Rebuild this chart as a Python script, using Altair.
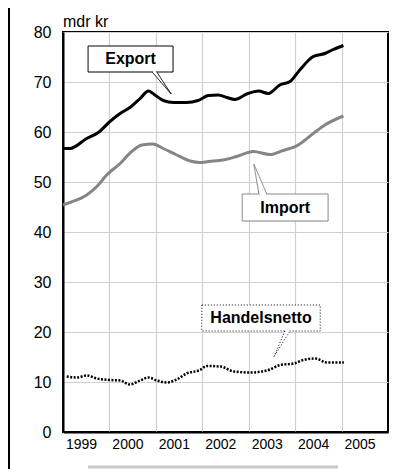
import altair as alt
import pandas as pd

# ---- data (fractional year, mdr kr) ----
export_t = [1999.01, 1999.15, 1999.51, 1999.76, 2000.01, 2000.23, 2000.44, 2000.66,
            2000.84, 2000.98, 2001.16, 2001.38, 2001.66, 2001.91, 2002.13, 2002.34,
            2002.53, 2002.70, 2002.96, 2003.21, 2003.42, 2003.67, 2003.89, 2004.10,
            2004.39, 2004.64, 2004.82, 2005.04]
export_v = [56.7, 56.7, 58.7, 59.9, 62.1, 63.7, 64.9, 66.7,
            68.2, 67.4, 66.3, 65.9, 65.9, 66.3, 67.3, 67.4,
            66.9, 66.5, 67.6, 68.2, 67.7, 69.4, 70.1, 72.4,
            75.1, 75.7, 76.5, 77.3]

import_t = [1999.00, 1999.15, 1999.51, 1999.73, 1999.94, 2000.23, 2000.48, 2000.70,
            2000.94, 2001.16, 2001.45, 2001.74, 2001.95, 2002.13, 2002.45, 2002.74,
            2003.10, 2003.46, 2003.74, 2004.03, 2004.39, 2004.64, 2005.04]
import_v = [45.4, 45.9, 47.4, 49.1, 51.4, 53.7, 56.1, 57.4,
            57.6, 56.7, 55.4, 54.2, 53.9, 54.1, 54.4, 55.1,
            56.1, 55.5, 56.3, 57.2, 59.7, 61.4, 63.2]

netto_t = [1999.08, 1999.30, 1999.51, 1999.73, 2000.01, 2000.23, 2000.44, 2000.66,
           2000.84, 2001.02, 2001.23, 2001.45, 2001.66, 2001.95, 2002.10, 2002.39,
           2002.68, 2003.03, 2003.39, 2003.68, 2003.97, 2004.18, 2004.43, 2004.69,
           2005.05]
netto_v = [11.1, 10.9, 11.3, 10.7, 10.4, 10.3, 9.5, 10.3,
           10.9, 10.3, 9.9, 10.5, 11.7, 12.4, 13.2, 13.1,
           12.1, 11.9, 12.3, 13.4, 13.7, 14.4, 14.7, 13.9,
           13.9]

years = [1999, 2000, 2001, 2002, 2003, 2004, 2005]
y_ticks = [0, 10, 20, 30, 40, 50, 60, 70, 80]

# callout labels (data coordinates): box x1, x2, y1, y2; pointer base1, tip, base2
labels = ["Export", "Import", "Handelsnetto"]
box_x1 = [1999.54, 2002.86, 2001.99]
box_x2 = [2001.37, 2004.71, 2004.54]
box_y1 = [77.2, 47.6, 25.4]
box_y2 = [72.0, 42.2, 20.2]
ptr_x = [[2000.92, 2001.33, 2001.02], [2003.22, 2003.11, 2003.39], [2003.78, 2003.54, 2003.89]]
ptr_y = [[72.0, 67.6, 72.0], [47.6, 53.6, 47.6], [20.2, 15.0, 20.2]]

FONT = "Liberation Sans"
GRID = "#d0d0d0"

x_scale = alt.Scale(domain=[1999, 2006], nice=False, zero=False)
y_scale = alt.Scale(domain=[0, 80], nice=False)


def sdf(t, v):
    return pd.DataFrame({"t": t, "v": v})


x_axis = alt.Axis(values=years, format="d", labelOffset=18, ticks=False, grid=True,
                  gridColor=GRID, gridWidth=1.2, labelFontSize=14, labelFont=FONT,
                  labelColor="black", labelPadding=5, labelFlush=False,
                  labelOverlap=False, labelBound=False, domainColor="black",
                  domainWidth=2, title=None)
y_axis = alt.Axis(values=y_ticks, ticks=False, grid=True, gridColor=GRID, gridWidth=1.2,
                  labelFontSize=16, labelFont=FONT, labelColor="black", labelPadding=12,
                  domainColor="black", domainWidth=2, title=None)


def X(field):
    return alt.X(field, scale=x_scale, axis=x_axis)


def Y(field):
    return alt.Y(field, scale=y_scale, axis=y_axis)


export_line = alt.Chart(sdf(export_t, export_v)).mark_line(
    color="black", strokeWidth=3, interpolate="monotone").encode(x=X("t:Q"), y=Y("v:Q"))
import_line = alt.Chart(sdf(import_t, import_v)).mark_line(
    color="#858585", strokeWidth=3, interpolate="monotone").encode(x=X("t:Q"), y=Y("v:Q"))
netto_line = alt.Chart(sdf(netto_t, netto_v)).mark_line(
    color="black", strokeWidth=2.5, strokeDash=[2, 1.5], interpolate="monotone").encode(
    x=X("t:Q"), y=Y("v:Q"))

layers = [export_line, import_line, netto_line]

styles = [
    dict(stroke="black", strokeDash=[1, 0]),
    dict(stroke="#808080", strokeDash=[1, 0]),
    dict(stroke="black", strokeDash=[1, 2]),
]

for i, lab in enumerate(labels):
    st = styles[i]
    bdf = pd.DataFrame({"x1": [box_x1[i]], "x2": [box_x2[i]], "y1": [box_y1[i]],
                        "y2": [box_y2[i]], "cx": [(box_x1[i] + box_x2[i]) / 2],
                        "cy": [(box_y1[i] + box_y2[i]) / 2], "label": [lab]})
    box = alt.Chart(bdf).mark_rect(fill="white", stroke=st["stroke"], strokeWidth=1,
                                   strokeDash=st["strokeDash"]).encode(
        x=X("x1:Q"), x2="x2:Q", y=Y("y1:Q"), y2="y2:Q")
    pdf = pd.DataFrame({"px": ptr_x[i], "py": ptr_y[i], "o": [0, 1, 2]})
    ptr = alt.Chart(pdf).mark_line(fill="white", stroke=st["stroke"], strokeWidth=1,
                                   strokeDash=st["strokeDash"]).encode(
        x=X("px:Q"), y=Y("py:Q"), order="o:Q")
    gdf = pd.DataFrame({"gx1": [ptr_x[i][0] + 0.02], "gx2": [ptr_x[i][2] - 0.02],
                        "gy": [ptr_y[i][0]]})
    gap = alt.Chart(gdf).mark_rule(color="white", strokeWidth=2).encode(
        x=X("gx1:Q"), x2="gx2:Q", y=Y("gy:Q"))
    txt = alt.Chart(bdf).mark_text(font=FONT, fontSize=16, fontWeight="bold",
                                   color="black", align="center",
                                   baseline="middle").encode(
        x=X("cx:Q"), y=Y("cy:Q"), text="label:N")
    layers += [box, ptr, gap, txt]

one = pd.DataFrame({"unit": ["mdr kr"]})
unit_txt = alt.Chart(one).mark_text(font=FONT, fontSize=16, align="left",
                                    baseline="alphabetic", color="black").encode(
    x=alt.value(0), y=alt.value(-5), text="unit:N")
frame_left = alt.Chart(one).mark_rule(color="black", strokeWidth=2).encode(
    x=alt.value(-54), y=alt.value(-24), y2=alt.value(440))
bottom_bar = alt.Chart(one).mark_rule(color="#c8c8c8", strokeWidth=3).encode(
    x=alt.value(25), x2=alt.value(275), y=alt.value(435))

layers += [unit_txt, frame_left, bottom_bar]

chart = alt.layer(*layers).properties(
    width=325, height=400,
    autosize=alt.AutoSizeParams(type="none"),
    padding={"left": 55, "top": 24, "right": 18, "bottom": 37},
).configure_view(stroke="black", strokeWidth=2)

chart.save("out.html", embed_options={"renderer": "svg", "actions": False})
